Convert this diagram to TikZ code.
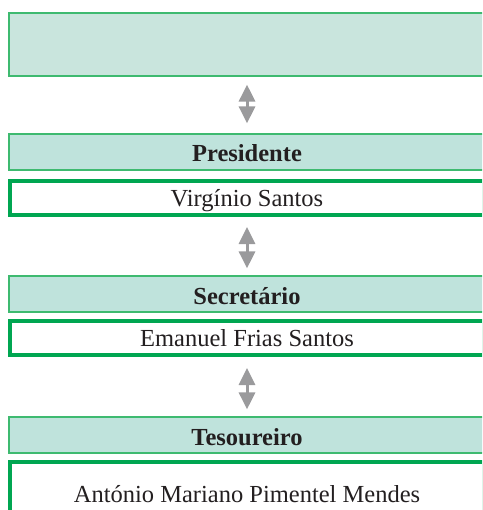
\documentclass[tikz,border=0pt]{standalone}
\usepackage{fontspec}
\setmainfont{Liberation Serif}
\usetikzlibrary{arrows.meta}
\definecolor{thingreen}{RGB}{62,186,112}
\definecolor{thickgreen}{RGB}{0,166,81}
\definecolor{topfill}{RGB}{201,229,221}
\definecolor{headfill}{RGB}{191,227,220}
\definecolor{arrgray}{RGB}{154,154,156}
\definecolor{txt}{RGB}{35,31,32}
\begin{document}
\begin{tikzpicture}[x=1pt,y=-1pt,
  topbox/.style={draw=thingreen, line width=1.2pt, fill=topfill, minimum width=476pt, minimum height=63pt, inner sep=0pt},
  headbox/.style={draw=thingreen, line width=1.2pt, fill=headfill, minimum width=476pt, minimum height=36pt, inner sep=0pt,
    font=\fontsize{24.5}{28}\selectfont\bfseries, text=txt, text height=20pt, text depth=0pt},
  namebox/.style={draw=thickgreen, line width=4pt, fill=white, minimum width=474pt, minimum height=34pt, inner sep=0pt,
    font=\fontsize{24.5}{28}\selectfont, text=txt, text height=17pt, text depth=0pt},
  dblarrow/.style={draw=arrgray, line width=3pt, {Triangle[width=16pt,length=17pt]}-{Triangle[width=16pt,length=17pt]}}
]
\useasboundingbox (0,0) rectangle (482,510);
\clip (0,0) rectangle (482,510);
\node[topbox] (top) at (247,44.5) {};
\node[headbox] (pres) at (247,152) {Presidente};
\node[namebox] (vs) at (247,198) {Virgínio Santos};
\node[headbox] (sec) at (247,294) {Secretário};
\node[namebox] (efs) at (247,338) {Emanuel Frias Santos};
\node[headbox] (tes) at (247,435) {Tesoureiro};
\node[namebox, minimum height=88pt, text height=8pt, text depth=15pt] (amp) at (247,506) {António Mariano Pimentel Mendes};
\draw[dblarrow, shorten <=8pt, shorten >=10pt] (top.south) -- (pres.north);
\draw[dblarrow, shorten <=10pt, shorten >=7pt] (vs.south) -- (sec.north);
\draw[dblarrow, shorten <=11pt, shorten >=7pt] (efs.south) -- (tes.north);
\end{tikzpicture}
\end{document}
